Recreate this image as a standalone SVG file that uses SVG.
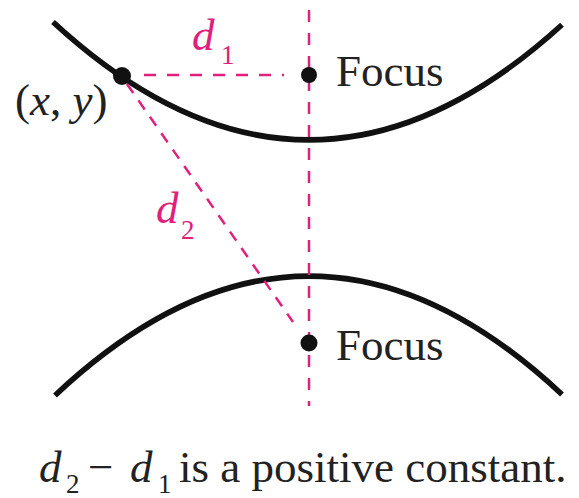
<svg xmlns="http://www.w3.org/2000/svg" width="579" height="498" viewBox="0 0 579 498">
<style>
.curve{fill:none;stroke:#111;stroke-width:5.5;}
.dash{fill:none;stroke:#E0207D;stroke-width:2.5;stroke-dasharray:12 11;}
.dot{fill:#111;}
.lbl{font-family:"Liberation Serif","Times New Roman",serif;font-size:45px;fill:#222;}
.mag{font-family:"Liberation Serif","Times New Roman",serif;fill:#E0207D;}
.it{font-style:italic;}
.sub{font-size:27px;}
</style>
<rect width="579" height="498" fill="#fff"/>
<g id="branches">
<path class="curve" d="M53,22 Q307.5,256.5 562,24.8"/>
<path class="curve" d="M55,395.4 Q308.5,157.2 562,394.4"/>
</g>
<g id="connectors">
<line class="dash" x1="309" y1="10" x2="309" y2="406"/>
<line class="dash" x1="144" y1="75" x2="284" y2="75"/>
<line class="dash" x1="127" y1="84" x2="293" y2="322" style="stroke-dasharray:11 9"/>
</g>
<g id="point">
<circle class="dot" cx="122" cy="76" r="9"/>
<text class="lbl" x="15" y="115">(<tspan class="it">x</tspan>, <tspan class="it">y</tspan>)</text>
</g>
<g id="focus-top">
<circle class="dot" cx="309" cy="75" r="8"/>
<text class="lbl" x="336" y="86">Focus</text>
</g>
<g id="focus-bottom">
<circle class="dot" cx="309" cy="343" r="8.5"/>
<text class="lbl" x="336" y="360">Focus</text>
</g>
<g id="label-d1">
<text class="mag it" x="192" y="50" font-size="45">d</text>
<text class="mag sub" x="221" y="64">1</text>
</g>
<g id="label-d2">
<text class="mag it" x="156" y="223" font-size="45">d</text>
<text class="mag sub" x="181" y="239">2</text>
</g>
<g id="caption">
<text class="lbl it" x="39" y="482">d</text>
<text class="lbl sub" x="66" y="493">2</text>
<text class="lbl" x="88" y="482">−</text>
<text class="lbl it" x="130" y="482">d</text>
<text class="lbl sub" x="158" y="493">1</text>
<text class="lbl" x="179" y="482">is a positive constant.</text>
</g>
</svg>
